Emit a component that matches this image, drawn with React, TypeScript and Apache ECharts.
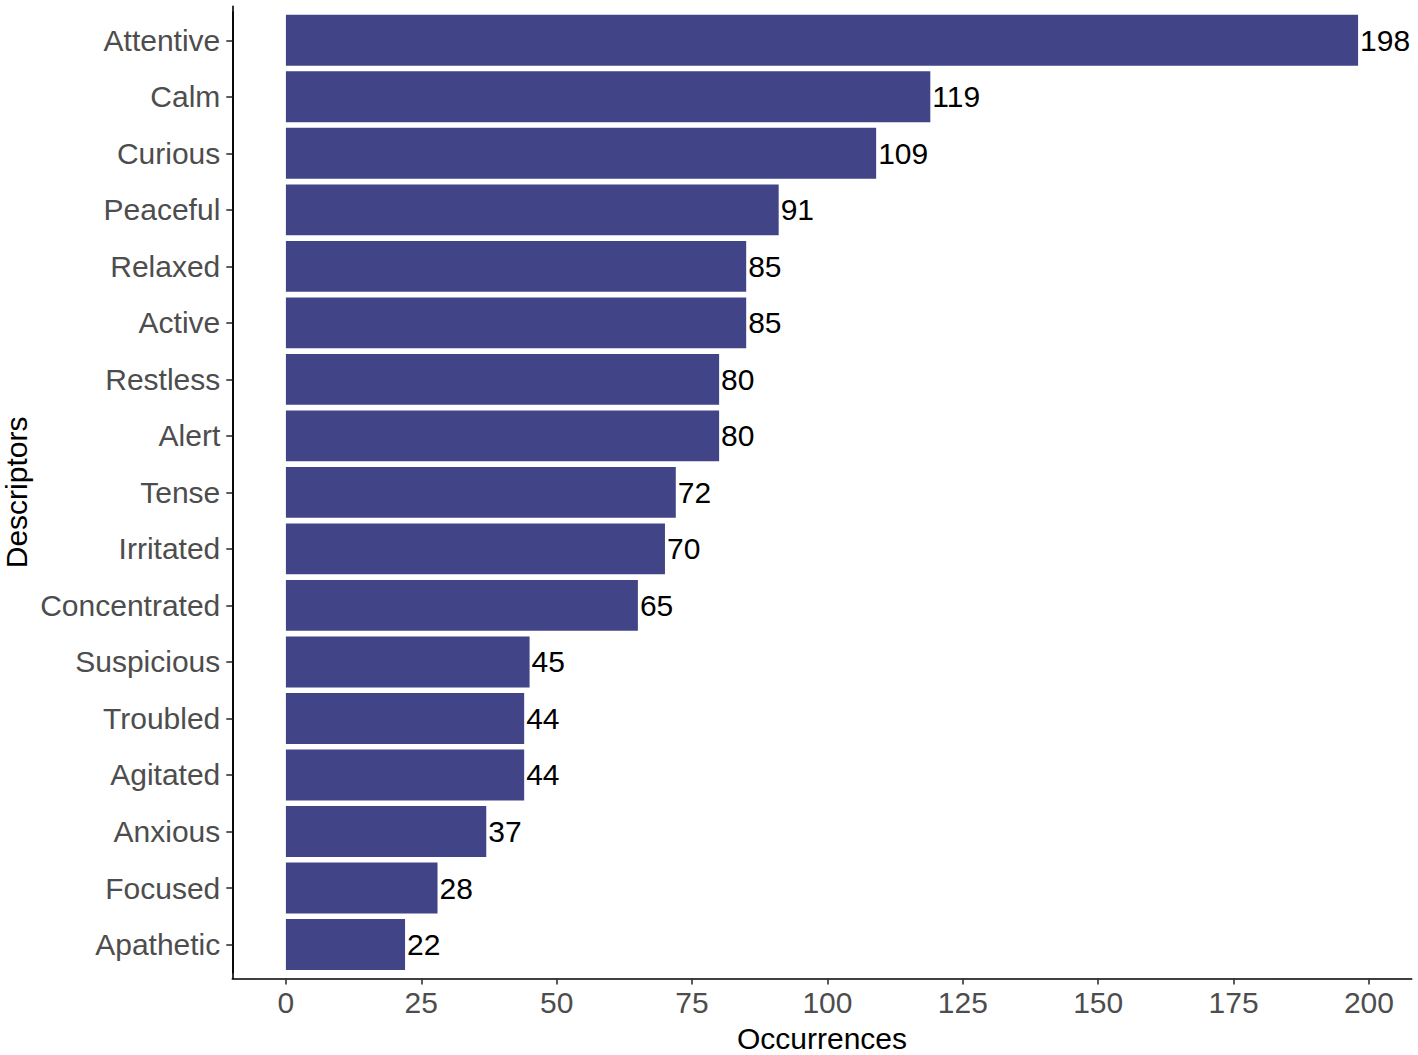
import React, { useEffect, useRef } from "react";
import * as echarts from "echarts";

const categories = [
  "Attentive", "Calm", "Curious", "Peaceful", "Relaxed", "Active", "Restless", "Alert",
  "Tense", "Irritated", "Concentrated", "Suspicious", "Troubled", "Agitated", "Anxious",
  "Focused", "Apathetic",
];
const values = [198, 119, 109, 91, 85, 85, 80, 80, 72, 70, 65, 45, 44, 44, 37, 28, 22];
const xTicks = [0, 25, 50, 75, 100, 125, 150, 175, 200];
const xMin = -9.9;
const xMax = 207.9;
const xTitle = "Occurrences";
const yTitle = "Descriptors";

const FONT = "'Liberation Sans', Arial, sans-serif";
const FS = 30;

export default function App() {
  const ref = useRef<HTMLDivElement>(null);
  useEffect(() => {
    if (!ref.current) return;
    const chart = echarts.init(ref.current, undefined, { renderer: "svg" });
    const n = categories.length;
    chart.setOption({
      animation: false,
      backgroundColor: "#ffffff",
      textStyle: { fontFamily: FONT },
      grid: [
        { left: 232.3, right: 6.3, top: 12.0, bottom: 82.2, outerBoundsMode: "none", containLabel: false },
        { left: 232.3, right: 6.3, top: 6.4, bottom: 76.6, outerBoundsMode: "none", containLabel: false },
      ],
      xAxis: [
        { type: "value", gridIndex: 0, min: xMin, max: xMax, show: false },
        {
          type: "value",
          gridIndex: 1,
          min: xMin,
          max: xMax,
          axisLine: { show: true, onZero: false, lineStyle: { color: "#000000", width: 1.6 } },
          axisTick: { show: true, length: 6, customValues: xTicks, lineStyle: { color: "#333333", width: 1.6 } },
          axisLabel: {
            customValues: xTicks,
            color: "#4D4D4D",
            fontSize: FS,
            fontFamily: FONT,
            margin: 9,
            showMinLabel: true,
            showMaxLabel: true,
          },
          splitLine: { show: false },
          name: xTitle,
          nameLocation: "middle",
          nameGap: 45,
          nameTextStyle: { color: "#000000", fontSize: FS, fontFamily: FONT },
        },
      ],
      yAxis: [
        {
          type: "category",
          gridIndex: 0,
          data: categories,
          inverse: true,
          axisLine: { show: true, onZero: false, lineStyle: { color: "#000000", width: 1.6 } },
          axisTick: { show: true, alignWithLabel: true, length: 6, lineStyle: { color: "#333333", width: 1.6 } },
          axisLabel: { interval: 0, color: "#4D4D4D", fontSize: FS, fontFamily: FONT, margin: 12 },
          splitLine: { show: false },
        },
        {
          type: "value",
          gridIndex: 1,
          min: -0.6,
          max: n - 1 + 0.6,
          axisLine: { show: true, onZero: false, lineStyle: { color: "#000000", width: 1.6 } },
          axisTick: { show: false },
          axisLabel: { show: false },
          splitLine: { show: false },
          name: yTitle,
          nameLocation: "middle",
          nameGap: 201,
          nameRotate: 90,
          nameTextStyle: { color: "#000000", fontSize: FS, fontFamily: FONT },
        },
      ],
      series: [
        {
          type: "bar",
          xAxisIndex: 0,
          yAxisIndex: 0,
          data: values,
          barWidth: "90%",
          itemStyle: { color: "#414487" },
          label: {
            show: true,
            position: "right",
            distance: 2,
            color: "#000000",
            fontSize: FS,
            fontFamily: FONT,
          },
        },
      ],
    });
    return () => chart.dispose();
  }, []);
  return (
    <div
      ref={ref}
      style={{ position: "fixed", left: 0, top: 0, width: 1418, height: 1055, background: "#fff" }}
    />
  );
}
